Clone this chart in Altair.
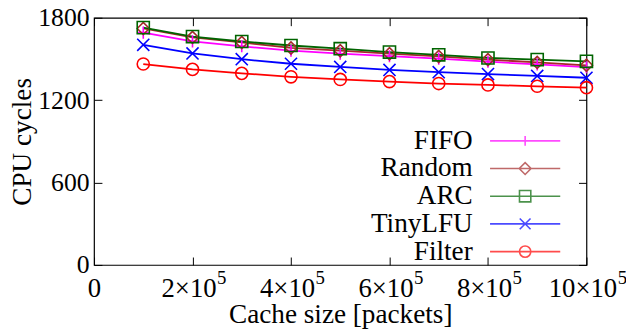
import altair as alt
import pandas as pd

# ---- data ----
cache_sizes = [100000, 200000, 300000, 400000, 500000, 600000, 700000, 800000, 900000, 1000000]
series_names = ["FIFO", "Random", "ARC", "TinyLFU", "Filter"]
fifo = [1692, 1628, 1592, 1560, 1538, 1520, 1502, 1480, 1460, 1440]
random_ = [1722, 1657, 1620, 1580, 1560, 1538, 1518, 1495, 1475, 1454]
arc = [1728, 1663, 1627, 1598, 1575, 1550, 1530, 1507, 1495, 1483]
tinylfu = [1603, 1540, 1498, 1465, 1442, 1420, 1404, 1390, 1376, 1363]
filter_ = [1463, 1424, 1395, 1370, 1351, 1335, 1321, 1311, 1301, 1291]
x_ticks = [0, 200000, 400000, 600000, 800000, 1000000]
y_ticks = [0, 600, 1200, 1800]

colors = ["#ff00ff", "#a52a2a", "#006400", "#0000ff", "#ff0000"]
marker_shapes = [
    "M-1,0H1M0,-1V1",
    "diamond",
    "square",
    "M-1,-1L1,1M-1,1L1,-1",
    "circle",
]
# legend glyphs: a line segment with the series marker in the middle
legend_shapes = [
    "M-2.73,0H2.73M0,-0.38V0.38",
    "M-2.73,0H2.73M-0.46,0L0,-0.46L0.46,0L0,0.46Z",
    "M-2.73,0H2.73M-0.44,-0.44H0.44V0.44H-0.44Z",
    "M-2.73,0H2.73M-0.42,-0.42L0.42,0.42M-0.42,0.42L0.42,-0.42",
    "M-2.73,0H2.73M-0.44,0A0.44,0.44 0 1,0 0.44,0A0.44,0.44 0 1,0 -0.44,0",
]

values = {"FIFO": fifo, "Random": random_, "ARC": arc, "TinyLFU": tinylfu, "Filter": filter_}
rows = []
for name in series_names:
    for xv, yv in zip(cache_sizes, values[name]):
        rows.append({"size": xv, "cycles": yv, "series": name})
df = pd.DataFrame(rows)

FONT = "Liberation Serif"
TICK_FS = 26
XTICK_FS = 27
TITLE_FS = 27.5
LEG_FS = 27.5

xscale = alt.Scale(domain=[0, 1000000], nice=False, zero=False)
yscale = alt.Scale(domain=[0, 1800], nice=False)
cscale = alt.Scale(domain=series_names, range=colors)
sort = series_names

# mantissa part "2×10" and a raised exponent "5" drawn as a second label row
mantissa_expr = "datum.value == 0 ? '0' : format(datum.value / 100000, 'd') + '×10'"
exponent_expr = "datum.value == 0 ? '' : '5'"

fonts = dict(labelFont=FONT, labelColor="black",
             titleFont=FONT, titleFontSize=TITLE_FS, titleColor="black", titleFontWeight="normal")

base = alt.Chart(df)

lines = base.mark_line(strokeWidth=1.8).encode(
    x=alt.X("size:Q", scale=xscale,
            axis=alt.Axis(values=x_ticks, labelExpr=mantissa_expr, ticks=False, domain=False,
                          grid=False, labelPadding=10.5, labelFlush=False, labelOverlap=False,
                          labelFontSize=XTICK_FS,
                          labelOffset={"condition": {"test": "datum.value == 0", "value": 0},
                                       "value": -4},
                          title="Cache size [packets]", titleY=58, titleBaseline="alphabetic",
                          **fonts)),
    y=alt.Y("cycles:Q", scale=yscale,
            axis=alt.Axis(values=y_ticks, format="d", ticks=False, domain=False, grid=False,
                          labelPadding=5, labelFontSize=TICK_FS,
                          title="CPU cycles", titleX=-72, titleY=125,
                          titleAngle=-90, titleAlign="center", titleBaseline="middle",
                          **fonts)),
    color=alt.Color("series:N", scale=cscale, sort=sort, legend=None),
    detail="series:N",
)

points = base.mark_point(filled=False, size=150, strokeWidth=1.6, opacity=1).encode(
    x=alt.X("size:Q", scale=xscale,
            axis=alt.Axis(orient="bottom", values=x_ticks, labelExpr=exponent_expr,
                          labelFont=FONT, labelFontSize=19, labelColor="black",
                          labelPadding=3.5, labelFlush=False, labelOverlap=False,
                          labelOffset={"condition": {"test": "datum.value == 1000000", "value": 36},
                                       "value": 29},
                          domain=False, grid=False,
                          ticks=True, tickSize=8, offset=-8, tickColor="black", title=None)),
    y=alt.Y("cycles:Q", scale=yscale,
            axis=alt.Axis(orient="left", values=y_ticks, labels=False, domain=False, grid=False,
                          ticks=True, tickSize=8, offset=-8, tickColor="black", title=None)),
    color=alt.Color("series:N", scale=cscale, sort=sort, legend=None),
    shape=alt.Shape("series:N", scale=alt.Scale(domain=series_names, range=marker_shapes),
                    sort=sort, legend=None),
)

legend_props = dict(orient="none", legendX=422, legendY=110.5, title=None,
                    symbolSize=676, symbolStrokeWidth=1.6,
                    labelAlign="right", labelOffset={"expr": "-67"},
                    labelFont=FONT, labelFontSize=LEG_FS, labelColor="black",
                    rowPadding=0, padding=0)

legend_layer = base.transform_filter("false").mark_point(filled=False, strokeWidth=1.6).encode(
    x=alt.X("size:Q", scale=xscale,
            axis=alt.Axis(orient="top", values=x_ticks, labels=False, domain=False, grid=False,
                          ticks=True, tickSize=8, offset=-8, tickColor="black", title=None)),
    y=alt.Y("cycles:Q", scale=yscale,
            axis=alt.Axis(orient="right", values=y_ticks, labels=False, domain=False, grid=False,
                          ticks=True, tickSize=8, offset=-8, tickColor="black", title=None)),
    color=alt.Color("series:N", scale=cscale, sort=sort, legend=alt.Legend(**legend_props)),
    shape=alt.Shape("series:N", scale=alt.Scale(domain=series_names, range=legend_shapes),
                    sort=sort, legend=alt.Legend(**legend_props)),
)

chart = (
    alt.layer(lines, points, legend_layer)
    .resolve_scale(color="independent", shape="independent")
    .resolve_axis(x="independent", y="independent")
    .properties(
        width=498,
        height=250,
        background="white",
        autosize=alt.AutoSizeParams(type="none"),
        padding={"left": 87, "top": 8, "right": 40, "bottom": 70},
    )
    .configure_view(stroke="black", strokeWidth=1.2)
    .configure_axis(labelFont=FONT, titleFont=FONT, titleFontWeight="normal")
)

chart.save("out.html", embed_options={"renderer": "svg", "actions": False})
